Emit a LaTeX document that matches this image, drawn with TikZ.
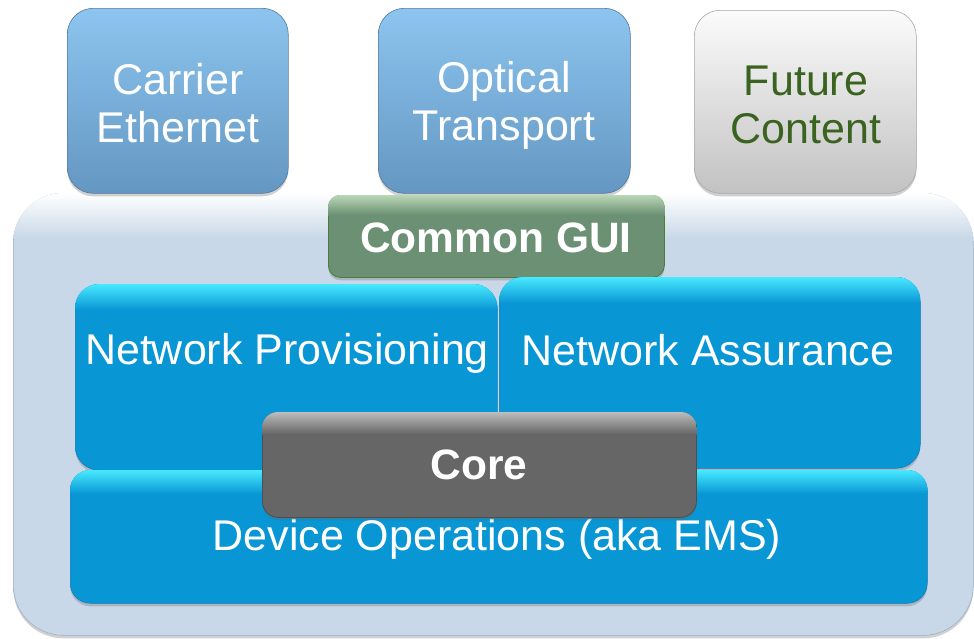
\documentclass[tikz,border=0pt]{standalone}
\usepackage{fontspec}
\setmainfont{Liberation Sans}
\usetikzlibrary{shadows}
\definecolor{bgfill}{HTML}{C8D8E8}
\definecolor{bgedge}{HTML}{9CB0C6}
\definecolor{steeltop}{HTML}{8CC5EF}
\definecolor{steelbot}{HTML}{6497C2}
\definecolor{steeledge}{HTML}{55799B}
\definecolor{greytop}{HTML}{FBFBFB}
\definecolor{greybot}{HTML}{C2C2C2}
\definecolor{greyedge}{HTML}{A8A8A8}
\definecolor{futtext}{HTML}{3B6320}
\definecolor{guibase}{HTML}{6B9073}
\definecolor{guitop}{HTML}{B9D7B6}
\definecolor{guiedge}{HTML}{4C7C3A}
\definecolor{netbase}{HTML}{0896D4}
\definecolor{nettop}{HTML}{48E9FF}
\definecolor{netedge}{HTML}{0A7DB8}
\definecolor{corebase}{HTML}{666666}
\definecolor{coretop}{HTML}{BDBDBD}
\definecolor{coreedge}{HTML}{4E4E4E}
\tikzset{
  boxbase/.style={rectangle, inner sep=0pt, anchor=north west},
  txt/.style={text=white, font=\fontsize{43}{48}\selectfont, align=center, inner sep=0pt},
  boldtxt/.style={text=white, font=\bfseries\fontsize{42.5}{48}\selectfont, inner sep=0pt},
  softshadow/.style={drop shadow={shadow xshift=0pt, shadow yshift=-3pt, opacity=0.30, fill=black!60}},
}
\begin{document}
\begin{tikzpicture}[x=1pt,y=-1pt]
\useasboundingbox (0,0) rectangle (974,638);
% background panel
\node[boxbase, minimum width=960pt, minimum height=442pt, rounded corners=50pt,
      fill=bgfill, draw=bgedge, line width=0.6pt, softshadow] (panel) at (13,193) {};
\begin{scope}
  \clip[rounded corners=50pt] (panel.north west) rectangle (panel.south east);
  \shade[top color=white, bottom color=bgfill] (panel.north west) rectangle ([yshift=-45pt]panel.north east);
\end{scope}
% top modules
\node[boxbase, minimum width=221pt, minimum height=185pt, rounded corners=26pt,
      top color=steeltop, bottom color=steelbot, draw=steeledge, line width=0.6pt, softshadow] (carrier) at (67,8) {};
\node[txt] (carriertxt) at (178,103) {Carrier\\Ethernet};
\node[boxbase, minimum width=252pt, minimum height=185pt, rounded corners=26pt,
      top color=steeltop, bottom color=steelbot, draw=steeledge, line width=0.6pt, softshadow] (optical) at (378,8) {};
\node[txt] (opticaltxt) at (504,105) {Optical\\Transport};
\node[boxbase, minimum width=222pt, minimum height=183pt, rounded corners=26pt,
      top color=greytop, bottom color=greybot, draw=greyedge, line width=0.6pt, softshadow] (future) at (694,10) {};
\node[txt, text=futtext] (futuretxt) at (806,105) {Future\\Content};
% common GUI
\node[boxbase, minimum width=336pt, minimum height=82pt, rounded corners=12pt,
      fill=guibase, draw=guiedge, line width=0.8pt, softshadow] (gui) at (328,195) {};
\begin{scope}
  \clip[rounded corners=12pt] (gui.north west) rectangle (gui.south east);
  \shade[top color=guitop, bottom color=guibase] (gui.north west) rectangle ([yshift=-20pt]gui.north east);
\end{scope}
\node[boldtxt] (guitxt) at (496,238) {Common GUI};
% network provisioning
\node[boxbase, minimum width=422pt, minimum height=186pt, rounded corners=24pt,
      fill=netbase, draw=netedge, line width=0.5pt, softshadow] (prov) at (75,284) {};
\begin{scope}
  \clip[rounded corners=24pt] (prov.north west) rectangle (prov.south east);
  \shade[top color=nettop, bottom color=netbase] (prov.north west) rectangle ([yshift=-26pt]prov.north east);
\end{scope}
\node[txt] (provtxt) at (287,353) {Network Provisioning};
% network assurance
\node[boxbase, minimum width=421pt, minimum height=191pt, rounded corners=24pt,
      fill=netbase, draw=netedge, line width=0.5pt, softshadow] (assur) at (499,277) {};
\begin{scope}
  \clip[rounded corners=24pt] (assur.north west) rectangle (assur.south east);
  \shade[top color=nettop, bottom color=netbase] (assur.north west) rectangle ([yshift=-26pt]assur.north east);
\end{scope}
\node[txt] (assurtxt) at (708,350) {Network Assurance};
% device operations
\node[boxbase, minimum width=857pt, minimum height=133pt, rounded corners=20pt,
      fill=netbase, draw=netedge, line width=0.5pt, softshadow] (device) at (70,470) {};
\begin{scope}
  \clip[rounded corners=20pt] (device.north west) rectangle (device.south east);
  \shade[top color=nettop, bottom color=netbase] (device.north west) rectangle ([yshift=-24pt]device.north east);
\end{scope}
\node[txt] (devicetxt) at (497,539) {Device Operations (aka EMS)};
% core
\node[boxbase, minimum width=434pt, minimum height=105pt, rounded corners=16pt,
      fill=corebase, draw=coreedge, line width=0.8pt, softshadow] (core) at (262,412) {};
\begin{scope}
  \clip[rounded corners=16pt] (core.north west) rectangle (core.south east);
  \shade[top color=coretop, bottom color=corebase] (core.north west) rectangle ([yshift=-22pt]core.north east);
\end{scope}
\node[boldtxt] (coretxt) at (479,465) {Core};
\end{tikzpicture}
\end{document}
